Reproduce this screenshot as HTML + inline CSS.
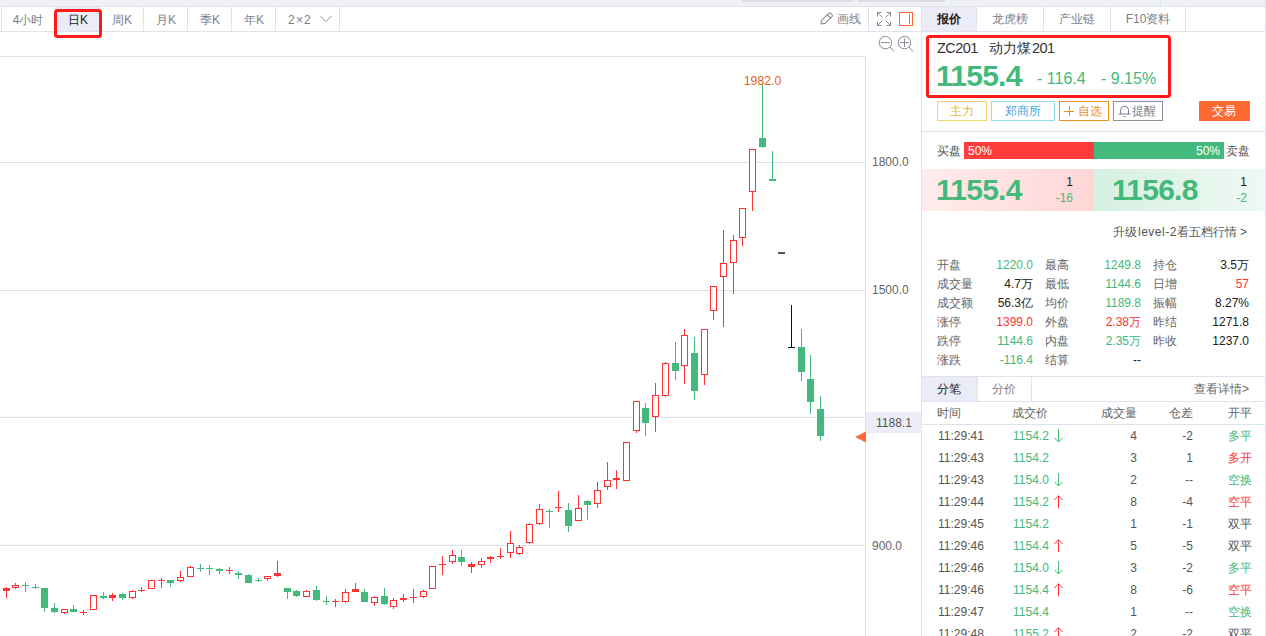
<!DOCTYPE html><html><head><meta charset="utf-8"><title>ZC201</title><style>
*{box-sizing:border-box;margin:0;padding:0}
html,body{width:1266px;height:636px;overflow:hidden;background:#fff}
body{position:relative;font-family:"Liberation Sans",sans-serif;font-size:12px;color:#555;line-height:1}
.a{position:absolute;white-space:nowrap}
.hl{position:absolute;height:1px;background:#dfe3ee}
.vl{position:absolute;width:1px;background:#dfe3ee}
.t{position:absolute;white-space:nowrap;line-height:14px;height:14px}
.z{display:inline-block;text-align:center;letter-spacing:0;overflow:hidden;vertical-align:top;height:100%}
.r{text-align:right}
.c{text-align:center}
.g{color:#43b97b}.rd{color:#ff3333}.dk{color:#222}
.tab{position:absolute;top:7px;height:24px;line-height:24px;text-align:center;color:#7b7e8c;font-size:12px;white-space:nowrap}
.btn{position:absolute;top:101px;height:20px;line-height:18px;text-align:center;font-size:12px;border:1px solid;white-space:nowrap}
.big{position:absolute;font-weight:bold;font-size:30px;line-height:30px;color:#43b97b;white-space:nowrap;letter-spacing:-.75px}
</style></head><body>
<div class="a" style="left:0;top:0;width:1266px;height:6px;background:#f0f1f5"></div>
<div class="a" style="left:742px;top:0;width:111px;height:2px;background:#dddee3"></div>
<div class="a" style="left:858px;top:0;width:87px;height:2px;background:#dddee3"></div>
<div class="vl" style="left:950px;top:0;height:6px"></div>
<div class="vl" style="left:1160px;top:0;height:6px"></div>
<div class="hl" style="left:0;top:6px;width:1266px"></div>
<div class="hl" style="left:0;top:31px;width:1266px"></div>
<div class="a" style="left:55px;top:7px;width:44px;height:24px;background:#ebecf7"></div>
<div class="vl" style="left:1px;top:7px;height:24px"></div>
<div class="vl" style="left:55px;top:7px;height:24px"></div>
<div class="vl" style="left:99px;top:7px;height:24px"></div>
<div class="vl" style="left:143px;top:7px;height:24px"></div>
<div class="vl" style="left:187px;top:7px;height:24px"></div>
<div class="vl" style="left:231px;top:7px;height:24px"></div>
<div class="vl" style="left:275px;top:7px;height:24px"></div>
<div class="vl" style="left:339px;top:7px;height:24px"></div>
<div class="tab" style="left:1px;top:8px;width:54px;">4<span class="z" style="width:2em">小时</span></div>
<div class="tab" style="left:56px;top:8px;width:44px;color:#222;"><span class="z" style="width:1em">日</span>K</div>
<div class="tab" style="left:100px;top:8px;width:44px;"><span class="z" style="width:1em">周</span>K</div>
<div class="tab" style="left:144px;top:8px;width:44px;"><span class="z" style="width:1em">月</span>K</div>
<div class="tab" style="left:188px;top:8px;width:44px;"><span class="z" style="width:1em">季</span>K</div>
<div class="tab" style="left:232px;top:8px;width:44px;"><span class="z" style="width:1em">年</span>K</div>
<div class="tab" style="left:276px;top:8px;width:48px;letter-spacing:1.2px">2×2</div>
<svg class="a" style="left:319px;top:14px" width="14" height="10" viewBox="0 0 14 10"><path d="M1.5 2 L7 7.5 L12.5 2" fill="none" stroke="#8a8d99" stroke-width="1"/></svg>
<div class="a" style="left:54px;top:9px;width:48px;height:29px;border:3px solid #ff1a1a;border-radius:3.5px"></div>
<svg class="a" style="left:820px;top:11px" width="14" height="14" viewBox="0 0 14 14"><path d="M1 12.9L1.6 9.3L8.6 2.3Q9.6 1.3 10.6 2.3L12 3.7Q13 4.7 12 5.7L5 12.4Z M7.3 3.6L10.7 7" fill="none" stroke="#8a8d99" stroke-width="1.1" stroke-linejoin="round"/></svg>
<div class="t" style="left:837px;top:12px;color:#7b7e8c"><span class="z" style="width:2em">画线</span></div>
<div class="vl" style="left:868px;top:7px;height:24px"></div>
<svg class="a" style="left:876px;top:11px" width="16" height="16" viewBox="0 0 16 16"><g fill="none" stroke="#8a8d99" stroke-width="1"><path d="M1.5 5.5V1.5H5.5M1.5 1.5L6.5 6.5"/><path d="M10.5 1.5H14.5V5.5M14.5 1.5L9.5 6.5"/><path d="M1.5 10.5V14.5H5.5M1.5 14.5L6.5 9.5"/><path d="M10.5 14.5H14.5V10.5M14.5 14.5L9.5 9.5"/></g></svg>
<div class="a" style="left:899px;top:12px;width:14px;height:14px;border:1px solid #ff6a33"></div>
<div class="a" style="left:909px;top:14px;width:1px;height:10px;background:#ff6a33"></div>
<svg class="a" style="left:877px;top:34px" width="38" height="20" viewBox="0 0 38 20"><g fill="none" stroke="#8a8d99" stroke-width="1"><circle cx="8.4" cy="8.6" r="6.2"/><path d="M4 8.6H12.8M12.9 13L17 17.5"/><circle cx="27.5" cy="8.6" r="6.2"/><path d="M23.1 8.6H31.9M27.5 4.2V13M32 13L36 17.5"/></g></svg>
<svg class="a" style="left:0;top:0" width="922" height="636" viewBox="0 0 922 636" shape-rendering="crispEdges">
<rect x="0" y="56" width="866" height="1" fill="#dde0e9"/>
<rect x="865" y="56" width="1" height="580" fill="#dde0e9"/>
<rect x="0" y="162" width="865" height="1" fill="#dddfe8"/>
<rect x="0" y="290" width="865" height="1" fill="#dddfe8"/>
<rect x="0" y="417" width="865" height="1" fill="#dddfe8"/>
<rect x="0" y="545" width="865" height="1" fill="#dddfe8"/>
<rect x="6" y="587" width="1" height="11" fill="#ff3333"/>
<rect x="3" y="588" width="7" height="3" fill="#ff3333"/>
<rect x="15" y="583" width="1" height="2" fill="#ff3333"/>
<rect x="15" y="588" width="1" height="1" fill="#ff3333"/>
<rect x="12.5" y="585.5" width="6" height="2" fill="#fff" stroke="#ff3333" stroke-width="1"/>
<rect x="25" y="582" width="1" height="10" fill="#43b97b"/>
<rect x="22" y="585" width="7" height="1" fill="#43b97b"/>
<rect x="35" y="584" width="1" height="5" fill="#43b97b"/>
<rect x="32" y="587" width="7" height="1" fill="#43b97b"/>
<rect x="44" y="588" width="1" height="24" fill="#43b97b"/>
<rect x="41" y="588" width="7" height="20" fill="#43b97b"/>
<rect x="54" y="603" width="1" height="10" fill="#43b97b"/>
<rect x="51" y="608" width="7" height="4" fill="#43b97b"/>
<rect x="64" y="613" width="1" height="1" fill="#ff3333"/>
<rect x="61.5" y="609.5" width="6" height="3" fill="#fff" stroke="#ff3333" stroke-width="1"/>
<rect x="73" y="605" width="1" height="7" fill="#43b97b"/>
<rect x="70" y="609" width="7" height="3" fill="#43b97b"/>
<rect x="83" y="610" width="1" height="5" fill="#ff3333"/>
<rect x="80" y="612" width="7" height="1" fill="#ff3333"/>
<rect x="90.5" y="595.5" width="6" height="14" fill="#fff" stroke="#ff3333" stroke-width="1"/>
<rect x="103" y="592" width="1" height="7" fill="#43b97b"/>
<rect x="100" y="596" width="7" height="2" fill="#43b97b"/>
<rect x="112" y="593" width="1" height="8" fill="#ff3333"/>
<rect x="109" y="595" width="7" height="3" fill="#ff3333"/>
<rect x="122" y="593" width="1" height="7" fill="#43b97b"/>
<rect x="119" y="594" width="7" height="4" fill="#43b97b"/>
<rect x="132" y="590" width="1" height="1" fill="#ff3333"/>
<rect x="132" y="598" width="1" height="1" fill="#ff3333"/>
<rect x="129.5" y="591.5" width="6" height="6" fill="#fff" stroke="#ff3333" stroke-width="1"/>
<rect x="141" y="587" width="1" height="5" fill="#ff3333"/>
<rect x="138" y="590" width="7" height="1" fill="#ff3333"/>
<rect x="148.5" y="580.5" width="6" height="8" fill="#fff" stroke="#ff3333" stroke-width="1"/>
<rect x="161" y="578" width="1" height="10" fill="#ff3333"/>
<rect x="158" y="580" width="7" height="1" fill="#ff3333"/>
<rect x="170" y="580" width="1" height="7" fill="#43b97b"/>
<rect x="167" y="580" width="7" height="3" fill="#43b97b"/>
<rect x="180" y="571" width="1" height="6" fill="#ff3333"/>
<rect x="180" y="581" width="1" height="1" fill="#ff3333"/>
<rect x="177.5" y="577.5" width="6" height="3" fill="#fff" stroke="#ff3333" stroke-width="1"/>
<rect x="190" y="566" width="1" height="1" fill="#ff3333"/>
<rect x="187.5" y="567.5" width="6" height="9" fill="#fff" stroke="#ff3333" stroke-width="1"/>
<rect x="200" y="564" width="1" height="8" fill="#43b97b"/>
<rect x="197" y="568" width="7" height="1" fill="#43b97b"/>
<rect x="209" y="565" width="1" height="10" fill="#43b97b"/>
<rect x="206" y="568" width="7" height="1" fill="#43b97b"/>
<rect x="219" y="568" width="1" height="6" fill="#43b97b"/>
<rect x="216" y="569" width="7" height="2" fill="#43b97b"/>
<rect x="229" y="567" width="1" height="7" fill="#ff3333"/>
<rect x="226" y="570" width="7" height="1" fill="#ff3333"/>
<rect x="238" y="571" width="1" height="8" fill="#43b97b"/>
<rect x="235" y="573" width="7" height="2" fill="#43b97b"/>
<rect x="248" y="574" width="1" height="9" fill="#43b97b"/>
<rect x="245" y="575" width="7" height="8" fill="#43b97b"/>
<rect x="258" y="578" width="1" height="4" fill="#43b97b"/>
<rect x="255" y="580" width="7" height="1" fill="#43b97b"/>
<rect x="267" y="579" width="1" height="2" fill="#ff3333"/>
<rect x="264.5" y="576.5" width="6" height="2" fill="#fff" stroke="#ff3333" stroke-width="1"/>
<rect x="277" y="561" width="1" height="16" fill="#ff3333"/>
<rect x="274" y="573" width="7" height="3" fill="#ff3333"/>
<rect x="287" y="588" width="1" height="11" fill="#43b97b"/>
<rect x="284" y="588" width="7" height="4" fill="#43b97b"/>
<rect x="296" y="590" width="1" height="7" fill="#43b97b"/>
<rect x="293" y="591" width="7" height="5" fill="#43b97b"/>
<rect x="306" y="590" width="1" height="1" fill="#ff3333"/>
<rect x="303.5" y="591.5" width="6" height="5" fill="#fff" stroke="#ff3333" stroke-width="1"/>
<rect x="316" y="586" width="1" height="15" fill="#43b97b"/>
<rect x="313" y="590" width="7" height="10" fill="#43b97b"/>
<rect x="326" y="596" width="1" height="9" fill="#43b97b"/>
<rect x="323" y="601" width="7" height="1" fill="#43b97b"/>
<rect x="335" y="599" width="1" height="8" fill="#ff3333"/>
<rect x="332" y="601" width="7" height="1" fill="#ff3333"/>
<rect x="345" y="589" width="1" height="3" fill="#ff3333"/>
<rect x="345" y="602" width="1" height="1" fill="#ff3333"/>
<rect x="342.5" y="592.5" width="6" height="9" fill="#fff" stroke="#ff3333" stroke-width="1"/>
<rect x="355" y="583" width="1" height="9" fill="#ff3333"/>
<rect x="352" y="589" width="7" height="3" fill="#ff3333"/>
<rect x="364" y="589" width="1" height="13" fill="#43b97b"/>
<rect x="361" y="592" width="7" height="10" fill="#43b97b"/>
<rect x="374" y="596" width="1" height="1" fill="#ff3333"/>
<rect x="374" y="603" width="1" height="3" fill="#ff3333"/>
<rect x="371.5" y="597.5" width="6" height="5" fill="#fff" stroke="#ff3333" stroke-width="1"/>
<rect x="384" y="588" width="1" height="17" fill="#43b97b"/>
<rect x="381" y="596" width="7" height="8" fill="#43b97b"/>
<rect x="393" y="598" width="1" height="2" fill="#ff3333"/>
<rect x="393" y="607" width="1" height="2" fill="#ff3333"/>
<rect x="390.5" y="600.5" width="6" height="6" fill="#fff" stroke="#ff3333" stroke-width="1"/>
<rect x="403" y="594" width="1" height="8" fill="#ff3333"/>
<rect x="400" y="598" width="7" height="2" fill="#ff3333"/>
<rect x="413" y="589" width="1" height="14" fill="#ff3333"/>
<rect x="410" y="597" width="7" height="1" fill="#ff3333"/>
<rect x="423" y="590" width="1" height="1" fill="#ff3333"/>
<rect x="423" y="597" width="1" height="1" fill="#ff3333"/>
<rect x="420.5" y="591.5" width="6" height="5" fill="#fff" stroke="#ff3333" stroke-width="1"/>
<rect x="429.5" y="566.5" width="6" height="22" fill="#fff" stroke="#ff3333" stroke-width="1"/>
<rect x="442" y="556" width="1" height="19" fill="#ff3333"/>
<rect x="439" y="564" width="7" height="1" fill="#ff3333"/>
<rect x="452" y="550" width="1" height="5" fill="#ff3333"/>
<rect x="452" y="562" width="1" height="2" fill="#ff3333"/>
<rect x="449.5" y="555.5" width="6" height="6" fill="#fff" stroke="#ff3333" stroke-width="1"/>
<rect x="461" y="550" width="1" height="16" fill="#43b97b"/>
<rect x="458" y="557" width="7" height="5" fill="#43b97b"/>
<rect x="471" y="562" width="1" height="11" fill="#ff3333"/>
<rect x="468" y="564" width="7" height="3" fill="#ff3333"/>
<rect x="481" y="558" width="1" height="3" fill="#ff3333"/>
<rect x="481" y="565" width="1" height="3" fill="#ff3333"/>
<rect x="478.5" y="561.5" width="6" height="3" fill="#fff" stroke="#ff3333" stroke-width="1"/>
<rect x="490" y="556" width="1" height="7" fill="#ff3333"/>
<rect x="487" y="557" width="7" height="2" fill="#ff3333"/>
<rect x="500" y="548" width="1" height="11" fill="#ff3333"/>
<rect x="497" y="556" width="7" height="1" fill="#ff3333"/>
<rect x="510" y="531" width="1" height="12" fill="#ff3333"/>
<rect x="510" y="553" width="1" height="5" fill="#ff3333"/>
<rect x="507.5" y="543.5" width="6" height="9" fill="#fff" stroke="#ff3333" stroke-width="1"/>
<rect x="519" y="545" width="1" height="2" fill="#ff3333"/>
<rect x="519" y="554" width="1" height="1" fill="#ff3333"/>
<rect x="516.5" y="547.5" width="6" height="6" fill="#fff" stroke="#ff3333" stroke-width="1"/>
<rect x="529" y="523" width="1" height="1" fill="#ff3333"/>
<rect x="529" y="543" width="1" height="1" fill="#ff3333"/>
<rect x="526.5" y="524.5" width="6" height="18" fill="#fff" stroke="#ff3333" stroke-width="1"/>
<rect x="539" y="504" width="1" height="5" fill="#ff3333"/>
<rect x="539" y="524" width="1" height="1" fill="#ff3333"/>
<rect x="536.5" y="509.5" width="6" height="14" fill="#fff" stroke="#ff3333" stroke-width="1"/>
<rect x="549" y="509" width="1" height="19" fill="#43b97b"/>
<rect x="546" y="511" width="7" height="1" fill="#43b97b"/>
<rect x="558" y="491" width="1" height="21" fill="#ff3333"/>
<rect x="555" y="507" width="7" height="1" fill="#ff3333"/>
<rect x="568" y="503" width="1" height="29" fill="#43b97b"/>
<rect x="565" y="510" width="7" height="16" fill="#43b97b"/>
<rect x="578" y="495" width="1" height="13" fill="#ff3333"/>
<rect x="575.5" y="508.5" width="6" height="12" fill="#fff" stroke="#ff3333" stroke-width="1"/>
<rect x="587" y="500" width="1" height="20" fill="#43b97b"/>
<rect x="584" y="501" width="7" height="4" fill="#43b97b"/>
<rect x="597" y="482" width="1" height="8" fill="#ff3333"/>
<rect x="597" y="504" width="1" height="4" fill="#ff3333"/>
<rect x="594.5" y="490.5" width="6" height="13" fill="#fff" stroke="#ff3333" stroke-width="1"/>
<rect x="607" y="462" width="1" height="18" fill="#ff3333"/>
<rect x="607" y="487" width="1" height="3" fill="#ff3333"/>
<rect x="604.5" y="480.5" width="6" height="6" fill="#fff" stroke="#ff3333" stroke-width="1"/>
<rect x="616" y="470" width="1" height="19" fill="#ff3333"/>
<rect x="613" y="478" width="7" height="2" fill="#ff3333"/>
<rect x="623.5" y="442.5" width="6" height="38" fill="#fff" stroke="#ff3333" stroke-width="1"/>
<rect x="636" y="431" width="1" height="2" fill="#ff3333"/>
<rect x="633.5" y="401.5" width="6" height="29" fill="#fff" stroke="#ff3333" stroke-width="1"/>
<rect x="645" y="403" width="1" height="33" fill="#43b97b"/>
<rect x="642" y="408" width="7" height="15" fill="#43b97b"/>
<rect x="655" y="383" width="1" height="12" fill="#ff3333"/>
<rect x="655" y="417" width="1" height="15" fill="#ff3333"/>
<rect x="652.5" y="395.5" width="6" height="21" fill="#fff" stroke="#ff3333" stroke-width="1"/>
<rect x="665" y="362" width="1" height="1" fill="#ff3333"/>
<rect x="665" y="396" width="1" height="1" fill="#ff3333"/>
<rect x="662.5" y="363.5" width="6" height="32" fill="#fff" stroke="#ff3333" stroke-width="1"/>
<rect x="675" y="342" width="1" height="38" fill="#43b97b"/>
<rect x="672" y="363" width="7" height="8" fill="#43b97b"/>
<rect x="684" y="329" width="1" height="6" fill="#ff3333"/>
<rect x="684" y="366" width="1" height="18" fill="#ff3333"/>
<rect x="681.5" y="335.5" width="6" height="30" fill="#fff" stroke="#ff3333" stroke-width="1"/>
<rect x="694" y="337" width="1" height="63" fill="#43b97b"/>
<rect x="691" y="353" width="7" height="38" fill="#43b97b"/>
<rect x="704" y="375" width="1" height="10" fill="#ff3333"/>
<rect x="701.5" y="329.5" width="6" height="45" fill="#fff" stroke="#ff3333" stroke-width="1"/>
<rect x="713" y="311" width="1" height="9" fill="#ff3333"/>
<rect x="710.5" y="286.5" width="6" height="24" fill="#fff" stroke="#ff3333" stroke-width="1"/>
<rect x="723" y="230" width="1" height="33" fill="#ff3333"/>
<rect x="723" y="277" width="1" height="50" fill="#ff3333"/>
<rect x="720.5" y="263.5" width="6" height="13" fill="#fff" stroke="#ff3333" stroke-width="1"/>
<rect x="733" y="235" width="1" height="5" fill="#ff3333"/>
<rect x="733" y="263" width="1" height="31" fill="#ff3333"/>
<rect x="730.5" y="240.5" width="6" height="22" fill="#fff" stroke="#ff3333" stroke-width="1"/>
<rect x="742" y="238" width="1" height="8" fill="#ff3333"/>
<rect x="739.5" y="208.5" width="6" height="29" fill="#fff" stroke="#ff3333" stroke-width="1"/>
<rect x="752" y="192" width="1" height="19" fill="#ff3333"/>
<rect x="749.5" y="149.5" width="6" height="42" fill="#fff" stroke="#ff3333" stroke-width="1"/>
<rect x="762" y="84" width="1" height="64" fill="#43b97b"/>
<rect x="759" y="138" width="7" height="9" fill="#43b97b"/>
<rect x="772" y="151" width="1" height="30" fill="#43b97b"/>
<rect x="769" y="179" width="7" height="2" fill="#43b97b"/>
<rect x="791" y="305" width="1" height="43" fill="#111111"/>
<rect x="788" y="347" width="7" height="1" fill="#111111"/>
<rect x="801" y="329" width="1" height="52" fill="#43b97b"/>
<rect x="798" y="347" width="7" height="25" fill="#43b97b"/>
<rect x="810" y="355" width="1" height="59" fill="#43b97b"/>
<rect x="807" y="379" width="7" height="23" fill="#43b97b"/>
<rect x="820" y="396" width="1" height="45" fill="#43b97b"/>
<rect x="817" y="409" width="7" height="27" fill="#43b97b"/>
<rect x="778" y="252" width="7" height="2" fill="#555"/>
<rect x="866" y="412" width="55" height="21" fill="#ecedf7"/>
<polygon points="855,437 866,431.5 866,442.5" fill="#ff6a33" shape-rendering="geometricPrecision"/>
</svg>
<div class="t" style="left:742px;top:74px;width:41px;font-size:13px;color:#e65f1a;text-align:center;transform:scaleX(.94)">1982.0</div>
<div class="t" style="left:872px;top:155px;color:#666">1800.0</div>
<div class="t" style="left:872px;top:283px;color:#666">1500.0</div>
<div class="t" style="left:872px;top:539px;color:#666">900.0</div>
<div class="t" style="left:876px;top:416px;color:#555">1188.1</div>
<div class="vl" style="left:921px;top:7px;height:629px"></div>
<div class="vl" style="left:1265px;top:0;height:636px"></div>
<div class="a" style="left:922px;top:7px;width:54px;height:24px;background:#ebecf7"></div>
<div class="vl" style="left:976px;top:7px;height:24px"></div>
<div class="vl" style="left:1043px;top:7px;height:24px"></div>
<div class="vl" style="left:1110px;top:7px;height:24px"></div>
<div class="vl" style="left:1185px;top:7px;height:24px"></div>
<div class="tab" style="left:922px;width:54px;color:#222;font-weight:bold;"><span class="z" style="width:2em">报价</span></div>
<div class="tab" style="left:977px;width:66px;"><span class="z" style="width:3em">龙虎榜</span></div>
<div class="tab" style="left:1044px;width:66px;"><span class="z" style="width:3em">产业链</span></div>
<div class="tab" style="left:1111px;width:74px;">F10<span class="z" style="width:2em">资料</span></div>
<div class="t" style="left:937px;top:40px;font-size:14.5px;letter-spacing:-.55px;color:#333;line-height:16px;height:16px">ZC201</div>
<div class="t" style="left:989px;top:40px;font-size:14px;color:#333;line-height:16px;height:16px"><span class="z" style="width:3em">动力煤</span></div>
<div class="t" style="left:1032px;top:40px;font-size:14.5px;letter-spacing:-.55px;color:#333;line-height:16px;height:16px">201</div>
<div class="big" style="left:936px;top:61px">1155.4</div>
<div class="t" style="left:1037px;top:70px;font-size:16px;line-height:18px;height:18px;color:#43b97b">- 116.4</div>
<div class="t" style="left:1101px;top:70px;font-size:16px;line-height:18px;height:18px;color:#43b97b">- 9.15%</div>
<div class="a" style="left:926px;top:35px;width:245px;height:63px;border:3px solid #ff1a1a;border-radius:3.5px"></div>
<div class="btn" style="left:937px;width:50px;border-color:#f3d46a;color:#e9b52a"><span class="z" style="width:2em">主力</span></div>
<div class="btn" style="left:991px;width:64px;border-color:#97d9f0;color:#3aa7dc"><span class="z" style="width:3em">郑商所</span></div>
<div class="btn" style="left:1059px;width:50px;border-color:#f0941e;color:#ee8a1a;padding-left:11px"><span class="z" style="width:2em">自选</span></div>
<svg class="a" style="left:1064px;top:106px" width="10" height="10" viewBox="0 0 10 10" shape-rendering="crispEdges"><path d="M0 5H10M5 0V10" stroke="#ee8a1a" stroke-width="1" fill="none"/></svg>
<div class="btn" style="left:1113px;width:50px;border-color:#8c8f99;color:#7b7e8c;padding-left:12px"><span class="z" style="width:2em">提醒</span></div>
<svg class="a" style="left:1118px;top:104px" width="13" height="14" viewBox="0 0 13 14"><path d="M2.5 10V6.2a4 4 0 0 1 8 0V10M0.5 10H12.5M5.5 12.5H7.5" fill="none" stroke="#7b7e8c" stroke-width="1"/></svg>
<div class="btn" style="left:1199px;width:51px;border-color:#ff6a33;background:#ff6a33;color:#fff;padding-right:2px"><span class="z" style="width:2em">交易</span></div>
<div class="hl" style="left:922px;top:131px;width:343px"></div>
<div class="t" style="left:937px;top:144px;color:#555"><span class="z" style="width:2em">买盘</span></div>
<div class="a" style="left:964px;top:142px;width:130px;height:17px;background:#ff3b3b"></div>
<div class="a" style="left:1094px;top:142px;width:130px;height:17px;background:#43b97b"></div>
<div class="t" style="left:968px;top:144px;color:#fff">50%</div>
<div class="t r" style="left:1180px;width:40px;top:144px;color:#fff">50%</div>
<div class="t" style="left:1226px;top:144px;color:#555"><span class="z" style="width:2em">卖盘</span></div>
<div class="a" style="left:922px;top:169px;width:172px;height:42px;background:linear-gradient(90deg,#ffecec,#ffd6d6)"></div>
<div class="a" style="left:1094px;top:169px;width:171px;height:42px;background:linear-gradient(90deg,#d6f0e2,#eff8f3)"></div>
<div class="big" style="left:936px;top:175px">1155.4</div>
<div class="big" style="left:1112px;top:175px">1156.8</div>
<div class="t r dk" style="left:1040px;width:33px;top:175px">1</div>
<div class="t r g" style="left:1040px;width:33px;top:191px">-16</div>
<div class="t r dk" style="left:1214px;width:33px;top:175px">1</div>
<div class="t r g" style="left:1214px;width:33px;top:191px">-2</div>
<div class="t" style="left:1113px;top:225px;color:#555"><span class="z" style="width:2em">升级</span></div>
<div class="t" style="left:1138px;top:225px;color:#555;letter-spacing:.5px">level-2</div>
<div class="t" style="left:1177px;top:225px;color:#555;letter-spacing:.1px"><span class="z" style="width:5em">看五档行情</span></div>
<div class="t" style="left:1240px;top:225px;color:#555">&gt;</div>
<div class="t" style="left:937px;top:258px;color:#666"><span class="z" style="width:2em">开盘</span></div>
<div class="t r g" style="left:963px;width:70px;top:258px">1220.0</div>
<div class="t" style="left:1045px;top:258px;color:#666"><span class="z" style="width:2em">最高</span></div>
<div class="t r g" style="left:1071px;width:70px;top:258px">1249.8</div>
<div class="t" style="left:1153px;top:258px;color:#666"><span class="z" style="width:2em">持仓</span></div>
<div class="t r dk" style="left:1179px;width:70px;top:258px">3.5<span class="z" style="width:1em">万</span></div>
<div class="t" style="left:937px;top:277px;color:#666"><span class="z" style="width:3em">成交量</span></div>
<div class="t r dk" style="left:963px;width:70px;top:277px">4.7<span class="z" style="width:1em">万</span></div>
<div class="t" style="left:1045px;top:277px;color:#666"><span class="z" style="width:2em">最低</span></div>
<div class="t r g" style="left:1071px;width:70px;top:277px">1144.6</div>
<div class="t" style="left:1153px;top:277px;color:#666"><span class="z" style="width:2em">日增</span></div>
<div class="t r rd" style="left:1179px;width:70px;top:277px">57</div>
<div class="t" style="left:937px;top:296px;color:#666"><span class="z" style="width:3em">成交额</span></div>
<div class="t r dk" style="left:963px;width:70px;top:296px">56.3<span class="z" style="width:1em">亿</span></div>
<div class="t" style="left:1045px;top:296px;color:#666"><span class="z" style="width:2em">均价</span></div>
<div class="t r g" style="left:1071px;width:70px;top:296px">1189.8</div>
<div class="t" style="left:1153px;top:296px;color:#666"><span class="z" style="width:2em">振幅</span></div>
<div class="t r dk" style="left:1179px;width:70px;top:296px">8.27%</div>
<div class="t" style="left:937px;top:315px;color:#666"><span class="z" style="width:2em">涨停</span></div>
<div class="t r rd" style="left:963px;width:70px;top:315px">1399.0</div>
<div class="t" style="left:1045px;top:315px;color:#666"><span class="z" style="width:2em">外盘</span></div>
<div class="t r rd" style="left:1071px;width:70px;top:315px">2.38<span class="z" style="width:1em">万</span></div>
<div class="t" style="left:1153px;top:315px;color:#666"><span class="z" style="width:2em">昨结</span></div>
<div class="t r dk" style="left:1179px;width:70px;top:315px">1271.8</div>
<div class="t" style="left:937px;top:334px;color:#666"><span class="z" style="width:2em">跌停</span></div>
<div class="t r g" style="left:963px;width:70px;top:334px">1144.6</div>
<div class="t" style="left:1045px;top:334px;color:#666"><span class="z" style="width:2em">内盘</span></div>
<div class="t r g" style="left:1071px;width:70px;top:334px">2.35<span class="z" style="width:1em">万</span></div>
<div class="t" style="left:1153px;top:334px;color:#666"><span class="z" style="width:2em">昨收</span></div>
<div class="t r dk" style="left:1179px;width:70px;top:334px">1237.0</div>
<div class="t" style="left:937px;top:353px;color:#666"><span class="z" style="width:2em">涨跌</span></div>
<div class="t r g" style="left:963px;width:70px;top:353px">-116.4</div>
<div class="t" style="left:1045px;top:353px;color:#666"><span class="z" style="width:2em">结算</span></div>
<div class="t r dk" style="left:1071px;width:70px;top:353px">--</div>
<div class="hl" style="left:922px;top:376px;width:343px"></div>
<div class="a" style="left:922px;top:377px;width:55px;height:24px;background:#ebecf7"></div>
<div class="vl" style="left:977px;top:377px;height:24px"></div>
<div class="vl" style="left:1031px;top:377px;height:24px"></div>
<div class="tab" style="left:921px;top:377px;width:55px;color:#222"><span class="z" style="width:2em">分笔</span></div>
<div class="tab" style="left:977px;top:377px;width:53px"><span class="z" style="width:2em">分价</span></div>
<div class="t r" style="left:1150px;width:99px;top:382px;color:#666"><span class="z" style="width:4em">查看详情</span>&gt;</div>
<div class="hl" style="left:922px;top:401px;width:343px"></div>
<div class="hl" style="left:922px;top:424px;width:343px"></div>
<div class="t" style="left:937px;top:406px;color:#666"><span class="z" style="width:2em">时间</span></div>
<div class="t" style="left:1012px;top:406px;color:#666"><span class="z" style="width:3em">成交价</span></div>
<div class="t r" style="left:1080px;width:57px;top:406px;color:#666"><span class="z" style="width:3em">成交量</span></div>
<div class="t r" style="left:1140px;width:53px;top:406px;color:#666"><span class="z" style="width:2em">仓差</span></div>
<div class="t r" style="left:1200px;width:52px;top:406px;color:#666"><span class="z" style="width:2em">开平</span></div>
<div class="t" style="left:938px;top:429px;color:#555">11:29:41</div>
<div class="t g" style="left:1013px;top:429px">1154.2</div>
<svg class="a" style="left:1053px;top:429px" width="11" height="14" viewBox="0 0 11 14"><path d="M5.5 0.2V13M1.3 8.8L5.5 13L9.7 8.8" fill="none" stroke="#43b97b" stroke-width="1"/></svg>
<div class="t r" style="left:1100px;width:37px;top:429px;color:#555">4</div>
<div class="t r" style="left:1150px;width:43px;top:429px;color:#555">-2</div>
<div class="t r g" style="left:1200px;width:52px;top:429px"><span class="z" style="width:2em">多平</span></div>
<div class="t" style="left:938px;top:451px;color:#555">11:29:43</div>
<div class="t g" style="left:1013px;top:451px">1154.2</div>
<div class="t r" style="left:1100px;width:37px;top:451px;color:#555">3</div>
<div class="t r" style="left:1150px;width:43px;top:451px;color:#555">1</div>
<div class="t r rd" style="left:1200px;width:52px;top:451px"><span class="z" style="width:2em">多开</span></div>
<div class="t" style="left:938px;top:473px;color:#555">11:29:43</div>
<div class="t g" style="left:1013px;top:473px">1154.0</div>
<svg class="a" style="left:1053px;top:473px" width="11" height="14" viewBox="0 0 11 14"><path d="M5.5 0.2V13M1.3 8.8L5.5 13L9.7 8.8" fill="none" stroke="#43b97b" stroke-width="1"/></svg>
<div class="t r" style="left:1100px;width:37px;top:473px;color:#555">2</div>
<div class="t r" style="left:1150px;width:43px;top:473px;color:#555">--</div>
<div class="t r g" style="left:1200px;width:52px;top:473px"><span class="z" style="width:2em">空换</span></div>
<div class="t" style="left:938px;top:495px;color:#555">11:29:44</div>
<div class="t g" style="left:1013px;top:495px">1154.2</div>
<svg class="a" style="left:1053px;top:495px" width="11" height="14" viewBox="0 0 11 14"><path d="M5.5 13.2V0.8M1.3 5L5.5 0.8L9.7 5" fill="none" stroke="#ff3333" stroke-width="1"/></svg>
<div class="t r" style="left:1100px;width:37px;top:495px;color:#555">8</div>
<div class="t r" style="left:1150px;width:43px;top:495px;color:#555">-4</div>
<div class="t r rd" style="left:1200px;width:52px;top:495px"><span class="z" style="width:2em">空平</span></div>
<div class="t" style="left:938px;top:517px;color:#555">11:29:45</div>
<div class="t g" style="left:1013px;top:517px">1154.2</div>
<div class="t r" style="left:1100px;width:37px;top:517px;color:#555">1</div>
<div class="t r" style="left:1150px;width:43px;top:517px;color:#555">-1</div>
<div class="t r " style="left:1200px;width:52px;top:517px"><span class="z" style="width:2em">双平</span></div>
<div class="t" style="left:938px;top:539px;color:#555">11:29:46</div>
<div class="t g" style="left:1013px;top:539px">1154.4</div>
<svg class="a" style="left:1053px;top:539px" width="11" height="14" viewBox="0 0 11 14"><path d="M5.5 13.2V0.8M1.3 5L5.5 0.8L9.7 5" fill="none" stroke="#ff3333" stroke-width="1"/></svg>
<div class="t r" style="left:1100px;width:37px;top:539px;color:#555">5</div>
<div class="t r" style="left:1150px;width:43px;top:539px;color:#555">-5</div>
<div class="t r " style="left:1200px;width:52px;top:539px"><span class="z" style="width:2em">双平</span></div>
<div class="t" style="left:938px;top:561px;color:#555">11:29:46</div>
<div class="t g" style="left:1013px;top:561px">1154.0</div>
<svg class="a" style="left:1053px;top:561px" width="11" height="14" viewBox="0 0 11 14"><path d="M5.5 0.2V13M1.3 8.8L5.5 13L9.7 8.8" fill="none" stroke="#43b97b" stroke-width="1"/></svg>
<div class="t r" style="left:1100px;width:37px;top:561px;color:#555">3</div>
<div class="t r" style="left:1150px;width:43px;top:561px;color:#555">-2</div>
<div class="t r g" style="left:1200px;width:52px;top:561px"><span class="z" style="width:2em">多平</span></div>
<div class="t" style="left:938px;top:583px;color:#555">11:29:46</div>
<div class="t g" style="left:1013px;top:583px">1154.4</div>
<svg class="a" style="left:1053px;top:583px" width="11" height="14" viewBox="0 0 11 14"><path d="M5.5 13.2V0.8M1.3 5L5.5 0.8L9.7 5" fill="none" stroke="#ff3333" stroke-width="1"/></svg>
<div class="t r" style="left:1100px;width:37px;top:583px;color:#555">8</div>
<div class="t r" style="left:1150px;width:43px;top:583px;color:#555">-6</div>
<div class="t r rd" style="left:1200px;width:52px;top:583px"><span class="z" style="width:2em">空平</span></div>
<div class="t" style="left:938px;top:605px;color:#555">11:29:47</div>
<div class="t g" style="left:1013px;top:605px">1154.4</div>
<div class="t r" style="left:1100px;width:37px;top:605px;color:#555">1</div>
<div class="t r" style="left:1150px;width:43px;top:605px;color:#555">--</div>
<div class="t r g" style="left:1200px;width:52px;top:605px"><span class="z" style="width:2em">空换</span></div>
<div class="t" style="left:938px;top:627px;color:#555">11:29:48</div>
<div class="t g" style="left:1013px;top:627px">1155.2</div>
<svg class="a" style="left:1053px;top:627px" width="11" height="14" viewBox="0 0 11 14"><path d="M5.5 13.2V0.8M1.3 5L5.5 0.8L9.7 5" fill="none" stroke="#ff3333" stroke-width="1"/></svg>
<div class="t r" style="left:1100px;width:37px;top:627px;color:#555">2</div>
<div class="t r" style="left:1150px;width:43px;top:627px;color:#555">-2</div>
<div class="t r " style="left:1200px;width:52px;top:627px"><span class="z" style="width:2em">双平</span></div>
</body></html>
